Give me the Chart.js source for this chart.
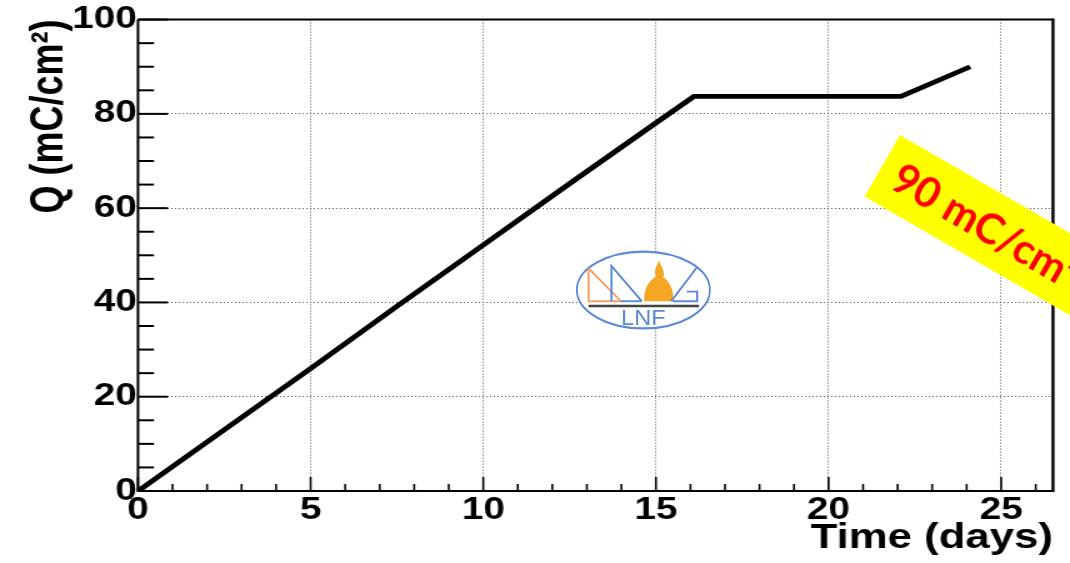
<!DOCTYPE html>
<html>
<head>
<meta charset="utf-8">
<script src="https://cdn.jsdelivr.net/npm/chart.js@4.4.1/dist/chart.umd.min.js"></script>
<style>
  html, body { margin: 0; padding: 0; background: #fff; }
  body { width: 1070px; height: 563px; overflow: hidden; position: relative; }
  /* the plot is laid out 856px wide and widened to the full page */
  #plot { position: absolute; left: 0; top: 0; width: 856px; height: 563px;
          transform: scaleX(1.25); transform-origin: 0 0; }
  #logo { position: absolute; left: 575px; top: 250px; width: 137px; height: 80px; }
  #callout { position: absolute; left: 900px; top: 135px; width: 290px; height: 71px;
             background: #ffff00; transform: rotate(30deg); transform-origin: 0 0;
             color: #ff0000; font: bold 42px Lato, "Open Sans", sans-serif;
             line-height: 71px; padding-left: 16px; box-sizing: border-box; white-space: nowrap; }
</style>
</head>
<body>
<div id="plot"><canvas id="chart"></canvas></div>

<svg id="logo" viewBox="70 55 525 250" preserveAspectRatio="none">
  <ellipse cx="332" cy="180" rx="255" ry="120" fill="#fff" stroke="#5b8bd6" stroke-width="7"/>
  <g transform="translate(122,0) scale(1.33,1) translate(-122,0)">
    <polyline points="122,112 122,215 215,215 122,112" fill="none" stroke="#f4a06a" stroke-width="6"/>
    <polyline points="188,215 188,105 275,215" fill="none" stroke="#5b8bd6" stroke-width="6"/>
    <polyline points="215,215 275,215" fill="none" stroke="#5b8bd6" stroke-width="6"/>
    <path d="M282,215 C282,170 298,150 316,138 C308,120 320,102 325,88 C332,110 344,124 337,140 C354,152 367,175 367,215 Z" fill="#f5a623"/>
    <polyline points="360,215 435,108" fill="none" stroke="#5b8bd6" stroke-width="6"/>
    <polyline points="365,215 435,215 435,185 405,185" fill="none" stroke="#5b8bd6" stroke-width="6"/>
    <line x1="122" y1="230" x2="440" y2="230" stroke="#444" stroke-width="8"/>
    <text x="280" y="290" text-anchor="middle" font-family="Liberation Sans, sans-serif" font-size="68" fill="#5b8bd6">LNF</text>
  </g>
</svg>

<div id="callout">90 mC/cm²</div>

<script>
// Accumulated charge versus irradiation time
const days   = [0, 2.5, 5, 7.5, 10, 12.5, 15, 16.1, 22.1, 24.1];
const charge = [0, 13, 26, 39.2, 52.2, 65.2, 78.1, 83.7, 83.7, 90];

const xMin = 0, xMax = 26.5, xStep = 5, xMinorStep = 1;
const yMin = 0, yMax = 100, yStep = 20, yMinorStep = 5;

const fontFamily = 'Liberation Sans, Arial, sans-serif';
const axisFont = { family: fontFamily, weight: 'bold', size: 31 };

// ROOT-style frame with ticks pointing into the plot
const frameTicks = {
  id: 'frameTicks',
  afterDatasetsDraw(chart) {
    const { ctx, chartArea: a, scales: { x, y } } = chart;
    ctx.save();
    ctx.strokeStyle = '#000';
    ctx.lineCap = 'butt';

    // y ticks
    ctx.lineWidth = 2;
    for (let v = yMin; v <= yMax + 1e-9; v += yMinorStep) {
      const py = y.getPixelForValue(v);
      const len = (Math.round(v) % yStep === 0) ? 24 : 12.8;
      ctx.beginPath(); ctx.moveTo(a.left, py); ctx.lineTo(a.left + len, py); ctx.stroke();
    }
    // x ticks
    ctx.lineWidth = 1.6;
    for (let v = xMin; v <= xMax + 1e-9; v += xMinorStep) {
      const px = x.getPixelForValue(v);
      const len = (Math.round(v) % xStep === 0) ? 14 : 7;
      ctx.beginPath(); ctx.moveTo(px, a.bottom); ctx.lineTo(px, a.bottom - len); ctx.stroke();
    }

    // frame
    ctx.lineWidth = 2;
    ctx.beginPath(); ctx.moveTo(a.left, a.top); ctx.lineTo(a.left, a.bottom); ctx.stroke();
    ctx.beginPath(); ctx.moveTo(a.left - 1, a.bottom); ctx.lineTo(a.right, a.bottom); ctx.stroke();
    ctx.beginPath(); ctx.moveTo(a.left, a.top); ctx.lineTo(a.right, a.top); ctx.stroke();
    ctx.lineWidth = 2.4;
    ctx.beginPath(); ctx.moveTo(a.right, a.top - 1); ctx.lineTo(a.right, a.bottom + 1); ctx.stroke();
    ctx.restore();
  }
};

new Chart(document.getElementById('chart'), {
  type: 'line',
  data: {
    datasets: [{
      data: days.map((d, i) => ({ x: d, y: charge[i] })),
      borderColor: '#000',
      borderWidth: 4.8,
      pointRadius: 0,
      tension: 0,
      fill: false
    }]
  },
  options: {
    responsive: true,
    maintainAspectRatio: false,
    animation: false,
    layout: { padding: { left: 0, right: 13.6, top: 15, bottom: 0 } },
    plugins: { legend: { display: false }, tooltip: { enabled: false } },
    scales: {
      x: {
        type: 'linear',
        min: xMin, max: xMax,
        afterFit(s) { s.height = 72; },
        ticks: { stepSize: xStep, includeBounds: false, color: '#000', font: axisFont,
                 padding: 1, maxRotation: 0, autoSkip: false },
        grid: { color: '#555', lineWidth: 1, drawTicks: false },
        border: { display: false, dash: [1, 2] },
        title: { display: true, text: 'Time (days)', align: 'end', color: '#000',
                 font: { family: fontFamily, weight: 'bold', size: 35 },
                 padding: 4 }
      },
      y: {
        min: yMin, max: yMax,
        afterFit(s) { s.width = 110.4; },
        ticks: { stepSize: yStep, color: '#000', font: axisFont, padding: 1 },
        grid: { color: '#555', lineWidth: 1, drawTicks: false },
        border: { display: false, dash: [1, 2] },
        title: { display: true, text: 'Q (mC/cm²)', align: 'end', color: '#000',
                 font: { family: fontFamily, weight: 'bold', size: 36 },
                 padding: 18 }
      }
    }
  },
  plugins: [frameTicks]
});
</script>
</body>
</html>
